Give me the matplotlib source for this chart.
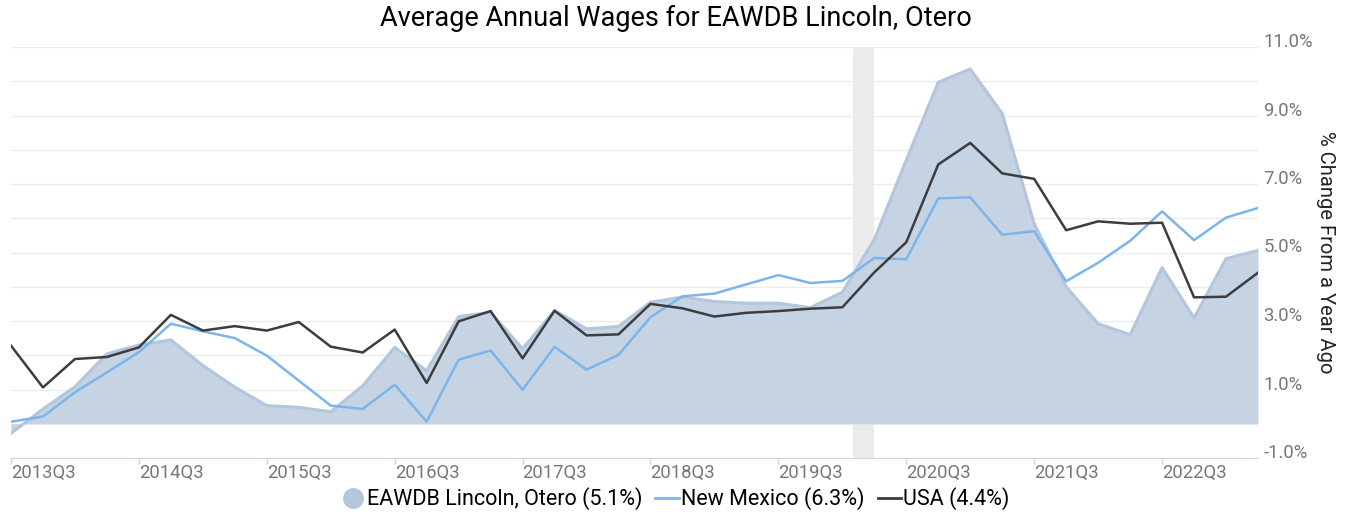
import numpy as np
import matplotlib
matplotlib.use("Agg")
import matplotlib.pyplot as plt
import matplotlib.transforms as mtransforms
from matplotlib.lines import Line2D

plt.rcParams['font.family'] = ['Roboto', 'DejaVu Sans']

# quarterly % change from a year ago, 2013Q3 .. 2023Q2
quarters = [f"{y}Q{q}" for y in range(2013, 2024) for q in range(1, 5)][2:42]

eawdb = [-0.28, 0.43, 1.08, 2.04, 2.30, 2.45, 1.70, 1.07, 0.53, 0.48,
         0.35, 1.11, 2.23, 1.55, 3.13, 3.25, 2.19, 3.31, 2.77, 2.84,
         3.55, 3.70, 3.57, 3.52, 3.52, 3.39, 3.84, 5.38, 7.70, 9.97,
         10.36, 9.06, 5.84, 4.00, 2.92, 2.60, 4.56, 3.09, 4.82, 5.06]
new_mexico = [0.06, 0.21, 0.92, 1.50, 2.09, 2.92, 2.70, 2.50, 1.99, 1.26,
              0.53, 0.43, 1.14, 0.06, 1.87, 2.14, 0.99, 2.25, 1.58, 2.01,
              3.11, 3.72, 3.80, 4.07, 4.34, 4.11, 4.17, 4.84, 4.80, 6.58,
              6.61, 5.52, 5.62, 4.16, 4.70, 5.34, 6.20, 5.36, 6.02, 6.30]
usa = [2.28, 1.06, 1.89, 1.95, 2.23, 3.18, 2.72, 2.85, 2.72, 2.97,
       2.25, 2.08, 2.75, 1.19, 2.99, 3.29, 1.91, 3.30, 2.58, 2.61,
       3.50, 3.37, 3.13, 3.24, 3.29, 3.36, 3.40, 4.42, 5.30, 7.57,
       8.20, 7.31, 7.15, 5.65, 5.91, 5.84, 5.87, 3.69, 3.71, 4.41]

# recession shading (Feb 2020 - Apr 2020), in quarter index units
recession = (26.33, 27.0)

area_fill = '#c5d3e3'
area_edge = '#b3c6dc'
nm_color = '#7cb5ec'
usa_color = '#3d3d3f'

x = np.arange(len(quarters))

fig = plt.figure(figsize=(13.51, 5.16), dpi=100)
ax = fig.add_axes([11 / 1351, 1 - 458 / 516, (1258 - 11) / 1351, 411 / 516])

ax.axvspan(recession[0], recession[1], color='#ebebeb', zorder=0, lw=0)
ax.fill_between(x, 0, eawdb, color=area_fill, lw=0, zorder=1)
ax.plot(x, eawdb, color=area_edge, lw=2.2, zorder=2)
ax.plot(x, new_mexico, color=nm_color, lw=1.8, zorder=3)
ax.plot(x, usa, color=usa_color, lw=1.8, zorder=4)

ax.set_xlim(0, len(quarters) - 1)
ax.set_ylim(-1, 11)

# gridlines every 1%, labels every 2%
ax.set_yticks(np.arange(-1, 12, 1), minor=True)
ax.set_yticks(np.arange(-1, 12, 2))
ax.set_yticklabels([f"{v:.1f}%" for v in np.arange(-1, 12, 2)])
ax.yaxis.tick_right()
ax.grid(axis='y', which='both', color='#ececec', lw=1)
ax.tick_params(axis='y', which='both', length=0, pad=4, labelsize=13.3, labelcolor='#777777')
offset = mtransforms.ScaledTranslation(0, 7 / 100, fig.dpi_scale_trans)
for lab in ax.get_yticklabels():
    lab.set_transform(lab.get_transform() + offset)
    lab.set_horizontalalignment('left')

ax.set_xticks(x[::4])
ax.set_xticklabels(quarters[::4])
ax.tick_params(axis='x', length=4.5, color='#ccd6eb', width=1, pad=0, labelsize=13.3, labelcolor='#777777')
for lab in ax.get_xticklabels():
    lab.set_horizontalalignment('left')

for side in ['top', 'right', 'left']:
    ax.spines[side].set_visible(False)
ax.spines['bottom'].set_color('#ccd6eb')
ax.set_axisbelow(True)

ax.yaxis.set_label_position('right')
ax.set_ylabel('% Change From a Year Ago', rotation=270, fontsize=14.5, color='#222222', labelpad=16)

fig.suptitle('Average Annual Wages for EAWDB Lincoln, Otero', y=0.99, fontsize=19.5, color='#000000')

handles = [
    Line2D([], [], marker='o', ls='none', markersize=14, color='#b3c6dc'),
    Line2D([], [], color=nm_color, lw=2),
    Line2D([], [], color=usa_color, lw=2),
]
labels = [f'EAWDB Lincoln, Otero ({eawdb[-1]:.1f}%)',
          f'New Mexico ({new_mexico[-1]:.1f}%)',
          f'USA ({usa[-1]:.1f}%)']
fig.legend(handles, labels, loc='center', bbox_to_anchor=(0.5, 1 - 499 / 516), ncol=3,
           frameon=False, fontsize=15.5, handlelength=1.1, handletextpad=0.1, columnspacing=0.6)

fig.savefig('out.png', dpi=100)
